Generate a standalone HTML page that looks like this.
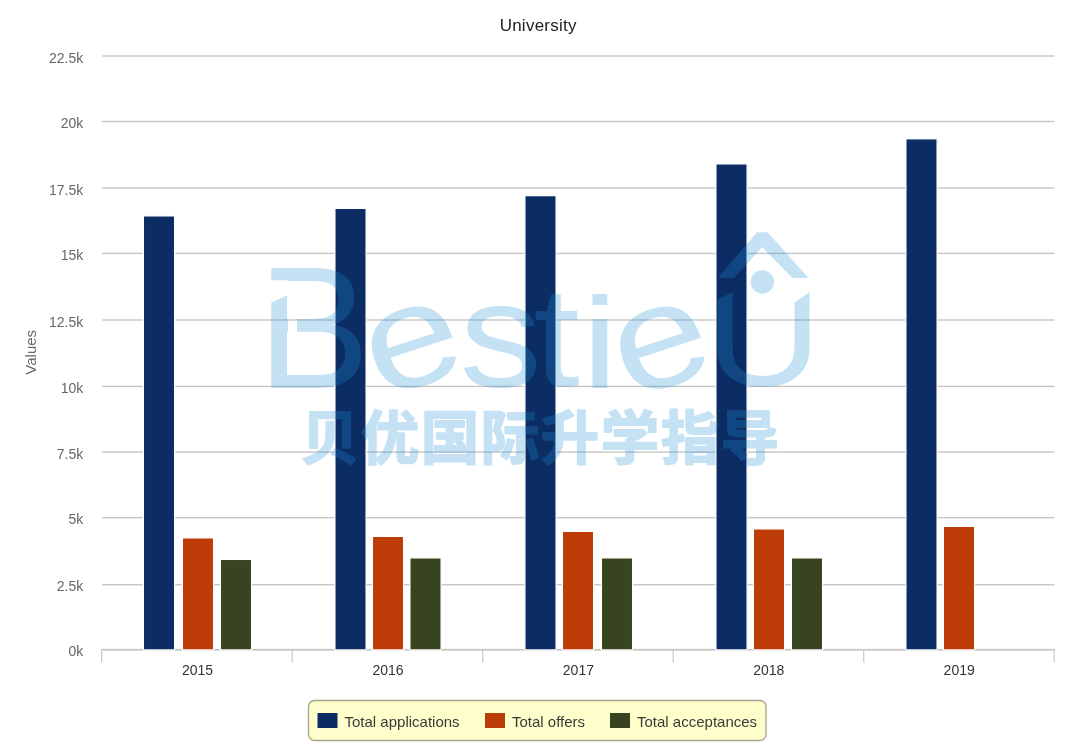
<!DOCTYPE html>
<html lang="en"><head><meta charset="utf-8"><title>University</title>
<style>
html,body{margin:0;padding:0;background:#fff;}
body{width:1080px;height:754px;overflow:hidden;font-family:"Liberation Sans","Noto Sans CJK SC",sans-serif;}
svg{display:block;}
text{font-family:"Liberation Sans","Noto Sans CJK SC",sans-serif;}
.yl{font-size:14px;fill:#666;text-anchor:end;}
.xl{font-size:14px;fill:#333;text-anchor:middle;}
.lg{font-size:15px;fill:#3a3a3a;}
.cn{font-family:"Noto Sans CJK SC","WenQuanYi Zen Hei",sans-serif;font-weight:700;font-size:58.5px;letter-spacing:1.5px;}
.logo{font-family:"Liberation Sans",sans-serif;}
</style></head><body>
<svg width="1080" height="754" viewBox="0 0 1080 754">
<rect width="1080" height="754" fill="#fff"/>

<g fill="#c6c6c6">
<rect x="102" y="55.30" width="952.5" height="1.4"/>
<rect x="102" y="120.80" width="952.5" height="1.4"/>
<rect x="102" y="187.30" width="952.5" height="1.4"/>
<rect x="102" y="252.70" width="952.5" height="1.4"/>
<rect x="102" y="319.30" width="952.5" height="1.4"/>
<rect x="102" y="385.70" width="952.5" height="1.4"/>
<rect x="102" y="451.40" width="952.5" height="1.4"/>
<rect x="102" y="517.00" width="952.5" height="1.4"/>
<rect x="102" y="584.00" width="952.5" height="1.4"/>
</g>
<rect x="101.3" y="648.9" width="953.8" height="1.7" fill="#c4c4c4"/>
<g fill="#cccccc">
<rect x="101.05" y="650" width="1.3" height="12.5"/>
<rect x="291.55" y="650" width="1.3" height="12.5"/>
<rect x="482.05" y="650" width="1.3" height="12.5"/>
<rect x="672.55" y="650" width="1.3" height="12.5"/>
<rect x="863.05" y="650" width="1.3" height="12.5"/>
<rect x="1053.55" y="650" width="1.3" height="12.5"/>
</g>
<g fill="#0b2d64" stroke="#fff" stroke-width="1.25">
<rect x="143.40" y="215.90" width="31.2" height="434.00"/>
<rect x="334.90" y="208.40" width="31.2" height="441.50"/>
<rect x="524.90" y="195.65" width="31.2" height="454.25"/>
<rect x="715.90" y="163.90" width="31.2" height="486.00"/>
<rect x="905.90" y="138.80" width="31.2" height="511.10"/>
</g>
<g fill="#bd3b07" stroke="#fff" stroke-width="1.25">
<rect x="182.40" y="537.90" width="31.2" height="112.00"/>
<rect x="372.40" y="536.40" width="31.2" height="113.50"/>
<rect x="562.40" y="531.40" width="31.2" height="118.50"/>
<rect x="753.40" y="528.90" width="31.2" height="121.00"/>
<rect x="943.40" y="526.40" width="31.2" height="123.50"/>
</g>
<g fill="#38431f" stroke="#fff" stroke-width="1.25">
<rect x="220.40" y="559.40" width="31.2" height="90.50"/>
<rect x="409.90" y="557.90" width="31.2" height="92.00"/>
<rect x="601.40" y="557.90" width="31.2" height="92.00"/>
<rect x="791.40" y="557.90" width="31.2" height="92.00"/>
</g>
<text x="538.2" y="31.3" text-anchor="middle" font-size="17" letter-spacing="0.25" fill="#222">University</text>
<text class="yl" x="83.3" y="62.5">22.5k</text>
<text class="yl" x="83.3" y="128.0">20k</text>
<text class="yl" x="83.3" y="194.5">17.5k</text>
<text class="yl" x="83.3" y="259.9">15k</text>
<text class="yl" x="83.3" y="326.5">12.5k</text>
<text class="yl" x="83.3" y="392.9">10k</text>
<text class="yl" x="83.3" y="458.6">7.5k</text>
<text class="yl" x="83.3" y="524.2">5k</text>
<text class="yl" x="83.3" y="591.2">2.5k</text>
<text class="yl" x="83.3" y="656.3">0k</text>
<text transform="translate(36.1,352.3) rotate(-90)" text-anchor="middle" font-size="15" fill="#6b6b6b">Values</text>
<text class="xl" x="197.6" y="674.5">2015</text>
<text class="xl" x="388.0" y="674.5">2016</text>
<text class="xl" x="578.4" y="674.5">2017</text>
<text class="xl" x="768.8" y="674.5">2018</text>
<text class="xl" x="959.2" y="674.5">2019</text>
<rect x="308.5" y="700.5" width="457.5" height="40" rx="6" ry="6" fill="#ffffcc" stroke="#a5a58c" stroke-width="1.3"/>
<rect x="317.5" y="713" width="20" height="15" fill="#0b2d64"/><text class="lg" x="344.5" y="727">Total applications</text>
<rect x="485" y="713" width="20" height="15" fill="#bd3b07"/><text class="lg" x="512" y="727">Total offers</text>
<rect x="610" y="713" width="20" height="15" fill="#38431f"/><text class="lg" x="637" y="727">Total acceptances</text>
<defs><clipPath id="ucut"><path d="M700 400 L700 308.5 L745 286 L745 330 L780 330 L780 312.8 L820 284.8 L820 400 Z"/></clipPath><clipPath id="bcut"><path clip-rule="evenodd" d="M260 260 H370 V395 H260 Z M270 280.3 H288.2 V295 L270 303 Z M288 312 H297 V340 H288 Z"/></clipPath></defs>
<g fill="#2093d8" opacity="0.26"><title>BestieU 贝优国际升学指导</title>
<g class="wordmark"><g clip-path="url(#bcut)"><text class="logo" font-size="100" transform="matrix(1.6854 0 0 1.7442 257.47 388.00)">B</text></g><g transform="rotate(-18 413 347)"><text class="logo" font-size="100" transform="matrix(1.7262 0 0 1.4602 365.17 386.07)">e</text></g><text class="logo" font-size="100" transform="matrix(1.6512 0 0 1.5008 459.40 386.53)">s</text><text class="logo" font-size="100" transform="matrix(1.6799 0 0 1.4137 533.26 386.40)">t</text><text class="logo" font-size="100" transform="matrix(1.6839 0 0 1.2904 581.14 387.50)">i</text><g transform="rotate(-18 661.5 347.5)"><text class="logo" font-size="100" transform="matrix(1.7262 0 0 1.4694 613.67 386.57)">e</text></g><g clip-path="url(#ucut)"><text class="logo" font-size="100" transform="matrix(1.6201 0 0 1.4475 705.00 385.59)">U</text></g></g>
<path d="M757 232.2 L767.6 232.2 L808.5 278 L792.2 278 L762.3 247.2 L733.8 278 L717.9 278 Z"/>
<circle cx="762.3" cy="282" r="11.7"/>
<text class="cn" x="300.7" y="459.3" stroke="#2093d8" stroke-width="1.8" stroke-linejoin="round">贝优国际升学指导</text>
</g>
</svg></body></html>
